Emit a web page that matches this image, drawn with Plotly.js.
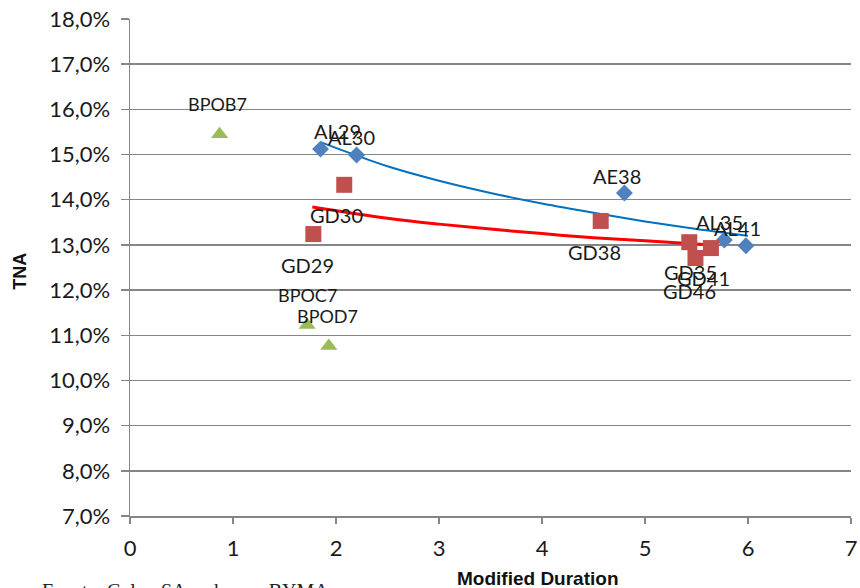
<!DOCTYPE html>
<html>
<head>
<meta charset="utf-8">
<script src="https://cdn.plot.ly/plotly-3.0.1.min.js"></script>
<style>html,body{margin:0;padding:0;background:#fff;overflow:hidden}#chart{width:860px;height:588px}</style>
</head>
<body>
<div id="chart"></div>
<script>
// Bonos en dólares (AL / AE) – rombos azules
const alNames = ["AL29", "AL30", "AE38", "AL35", "AL41"];
const alDur   = [1.85, 2.20, 4.80, 5.77, 5.98];
const alTna   = [0.1512, 0.1499, 0.1415, 0.1311, 0.1298];

// Bonos ley NY (GD) – cuadrados rojos
const gdNames = ["GD30", "GD29", "GD38", "GD35", "GD41", "GD46"];
const gdDur   = [2.08, 1.78, 4.57, 5.43, 5.64, 5.49];
const gdTna   = [0.1433, 0.1324, 0.1353, 0.1306, 0.1293, 0.1271];

// BOPREAL (BPO) – triángulos verdes
const bpNames = ["BPOB7", "BPOC7", "BPOD7"];
const bpDur   = [0.87, 1.72, 1.93];
const bpTna   = [0.1545, 0.1123, 0.1076];

// Líneas de tendencia
const alTrendX = [1.85, 2.5, 3.0, 3.5, 4.0, 4.5, 5.0, 5.5, 6.0];
const alTrendY = [0.15275, 0.1474, 0.1442, 0.1415, 0.13915, 0.1371, 0.1352, 0.1335, 0.1320];
const gdTrendX = [1.77, 2.5, 3.0, 3.5, 4.0, 4.5, 5.0, 5.65];
const gdTrendY = [0.1384, 0.1359, 0.1346, 0.1335, 0.1325, 0.1316, 0.1309, 0.1300];

// label offsets (px) – styling only
const alOff = [[17,18],[-5,18],[-7,17],[-5,18],[-8,18]];
const gdOff = [[-8,-30],[-6,-31],[-6,-31],[1,-30],[-7,-30],[-6,-33]];
const bpOff = [[-2,30],[0,30],[-1,30]];

const traces = [
  {x: alTrendX, y: alTrendY, mode: "lines", line: {color: "#0070C0", width: 2, shape: "spline"}, hoverinfo: "skip"},
  {x: gdTrendX, y: gdTrendY, mode: "lines", line: {color: "#FF0000", width: 3, shape: "spline"}, hoverinfo: "skip"},
  {x: alDur, y: alTna, mode: "markers", marker: {symbol: "diamond", size: 13, color: "#4F81BD"}},
  {x: gdDur, y: gdTna, mode: "markers", marker: {symbol: "square", size: 16, color: "#C0504D"}},
  {x: bpDur, y: bpTna, mode: "markers", marker: {symbol: "triangle-up", size: 15, color: "#9BBB59"}}
];

const annotations = [];
function addLabels(names, xs, ys, offs, size) {
  names.forEach((n, i) => annotations.push({
    x: xs[i], y: ys[i], xref: "x", yref: "y", text: n, showarrow: false,
    xshift: offs[i][0], yshift: offs[i][1],
    font: {family: "Lato, 'Open Sans', sans-serif", size: size, color: "#1a1a1a"}
  }));
}
addLabels(alNames, alDur, alTna, alOff, 20);
addLabels(gdNames, gdDur, gdTna, gdOff, 20);
addLabels(bpNames, bpDur, bpTna, bpOff, 18);

// axis titles and source note
annotations.push({
  xref: "paper", yref: "paper", x: 0.5645, y: -0.1, xanchor: "center", yanchor: "top",
  text: "<b>Modified Duration</b>", showarrow: false,
  font: {family: "'Liberation Sans', Arial, sans-serif", size: 19, color: "#111"}
});
annotations.push({
  xref: "paper", yref: "paper", x: -0.153, y: 0.493, xanchor: "center", yanchor: "middle",
  text: "<b>TNA</b>", textangle: -90, showarrow: false,
  font: {family: "'Liberation Sans', Arial, sans-serif", size: 18, color: "#111"}
});
annotations.push({
  xref: "paper", yref: "paper", x: -0.125, y: -0.125, xanchor: "left", yanchor: "top",
  text: "Fuente: Colon SA en base a BYMA", showarrow: false,
  font: {family: "'Liberation Serif', serif", size: 20, color: "#222"}
});

const layout = {
  width: 860, height: 588,
  margin: {l: 130, r: 9, t: 19, b: 72},
  paper_bgcolor: "#fff", plot_bgcolor: "#fff",
  showlegend: false,
  separators: ",.",
  font: {family: "Lato, 'Open Sans', sans-serif", color: "#1a1a1a"},
  xaxis: {
    range: [0, 7], dtick: 1, tick0: 0,
    showgrid: false, zeroline: false,
    showline: true, linecolor: "#868686", linewidth: 1.5,
    ticks: "outside", ticklen: 6, tickcolor: "#868686", tickwidth: 1.5,
    ticklabelstandoff: 6,
    tickfont: {size: 22}
  },
  yaxis: {
    range: [0.07, 0.18], dtick: 0.01, tick0: 0.07, tickformat: ".1%",
    showgrid: true, gridcolor: "#868686", gridwidth: 1.5,
    zeroline: false,
    showline: true, linecolor: "#868686", linewidth: 1.5,
    ticks: "outside", ticklen: 8, tickcolor: "#868686", tickwidth: 1.5,
    ticklabelstandoff: 6,
    tickfont: {size: 22}
  },
  annotations: annotations
};

Plotly.newPlot("chart", traces, layout, {displayModeBar: false, staticPlot: true});
</script>
</body>
</html>
